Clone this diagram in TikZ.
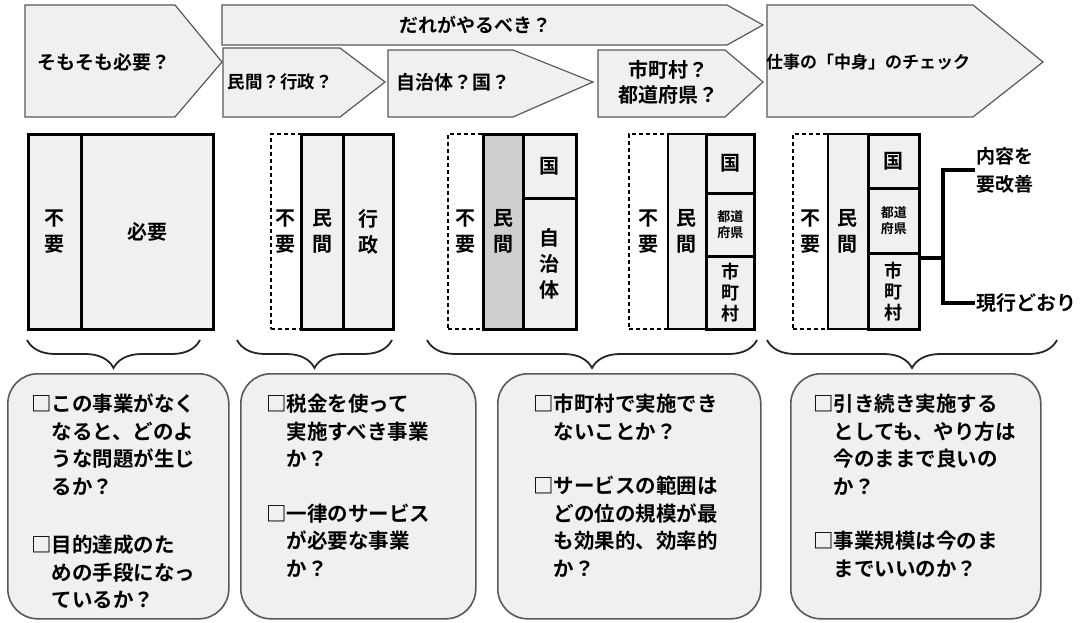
\documentclass[tikz,border=0pt]{standalone}
\usepackage{fontspec}
\newfontfamily\jp{Noto Sans CJK JP}[BoldFont={Noto Sans CJK JP Bold}]
\usetikzlibrary{positioning,decorations.pathreplacing}
\newcommand\chk{□}
\newcommand\ind{\hspace*{1em}}
\tikzset{
        tag/.style={draw=gray!70!black, line width=1.2pt, fill=gray!12},
        tagtext/.style={font=\jp\bfseries\fontsize{19}{24}\selectfont, align=center, inner sep=0pt},
        col/.style={draw, line width=2.5pt, fill=gray!12, inner sep=0pt, anchor=north west, align=center,
                font=\jp\bfseries\fontsize{20}{26}\selectfont},
        nocol/.style={draw, dash pattern=on 4pt off 3pt, line width=1.6pt, fill=white, inner sep=0pt,
                anchor=north west, align=center, font=\jp\bfseries\fontsize{20}{26}\selectfont},
        smallcol/.style={col, font=\jp\bfseries\fontsize{13}{16}\selectfont},
        shicol/.style={col, font=\jp\bfseries\fontsize{18}{21}\selectfont},
        curly/.style={decorate, decoration={brace, mirror, amplitude=28pt}, line width=1.8pt, draw=gray!30!black},
        memo/.style={draw=gray!70!black, line width=1.6pt, fill=gray!12, rounded corners=30pt, anchor=north west},
        memotext/.style={anchor=north west, align=left, inner sep=0pt,
                font=\jp\bfseries\fontsize{20.5}{27.5}\selectfont},
        link/.style={line width=4pt},
}
\begin{document}
\begin{tikzpicture}[x=1pt, y=-1pt]
                \fill [white] (0,0) rectangle (1085,622);
                \useasboundingbox (0,0) rectangle (1085,622);
                % step arrows
                \draw [tag] (222,5) -- (727,5) -- (763,25) -- (727,45) -- (222,45) -- cycle;
                \draw [tag] (25,5) -- (175,5) -- (222,62) -- (175,117) -- (25,117) -- cycle;
                \draw [tag] (223,48) -- (340,48) -- (385,82) -- (340,117) -- (223,117) -- cycle;
                \draw [tag] (388,50) -- (513,50) -- (593,82) -- (513,117) -- (388,117) -- cycle;
                \draw [tag] (598,50) -- (725,50) -- (763,82) -- (725,117) -- (598,117) -- cycle;
                \draw [tag] (767,5) -- (973,5) -- (1043,62) -- (973,117) -- (767,117) -- cycle;
                \node [tagtext] (dare) at (475,25) {だれがやるべき？};
                \node [tagtext] (somosomo) at (104,62) {そもそも必要？};
                \node [tagtext, font=\jp\bfseries\fontsize{17.5}{22}\selectfont] (kanmin) at (280,82) {民間？行政？};
                \node [tagtext] (jichikuni) at (453,82) {自治体？国？};
                \node [tagtext, font=\jp\bfseries\fontsize{20}{25}\selectfont] (shito) at (668,82) {市町村？\\都道府県？};
                \node [tagtext, font=\jp\bfseries\fontsize{17}{22}\selectfont] (nakami) at (868,62) {仕事の「中身」のチェック};
                % column boxes
                \node [col, minimum width=53, minimum height=195] (fuyoA) at (27,133) {不\\要};
                \node [col, minimum width=132, minimum height=195] (hitsuyo) at (80,133) {必要};
                \node [nocol, minimum width=30, minimum height=195] (fuyoB) at (270,133) {不\\要};
                \node [col, minimum width=42, minimum height=195] (minkanB) at (300,133) {民\\間};
                \node [col, minimum width=50, minimum height=195] (gyosei) at (342,133) {行\\政};
                \node [nocol, minimum width=35, minimum height=195] (fuyoC) at (447,133) {不\\要};
                \node [col, fill=gray!38, minimum width=40, minimum height=195] (minkanC) at (482,133) {民\\間};
                \node [col, minimum width=53, minimum height=64] (kuniC) at (522,133) {国};
                \node [col, minimum width=53, minimum height=131] (jichitai) at (522,197) {自\\治\\体};
                \node [nocol, minimum width=39, minimum height=195] (fuyoD) at (628,133) {不\\要};
                \node [col, line width=1.5pt, minimum width=38, minimum height=195] (minkanD) at (667,133) {民\\間};
                \node [col, minimum width=48, minimum height=59] (kuniD) at (705,133) {国};
                \node [smallcol, minimum width=48, minimum height=63] (todoD) at (705,192) {都道\\府県};
                \node [shicol, minimum width=48, minimum height=73] (shiD) at (705,255) {市\\町\\村};
                \node [nocol, minimum width=35, minimum height=195] (fuyoE) at (792,133) {不\\要};
                \node [col, line width=1.5pt, minimum width=40, minimum height=195] (minkanE) at (827,133) {民\\間};
                \node [col, minimum width=51, minimum height=54] (kuniE) at (867,133) {国};
                \node [smallcol, minimum width=51, minimum height=65] (todoE) at (867,187) {都道\\府県};
                \node [shicol, minimum width=51, minimum height=76] (shiE) at (867,252) {市\\町\\村};
                % outcome
                \coordinate (fork) at (943,258);
                \node [anchor=west, inner sep=1pt, align=left, font=\jp\bfseries\fontsize{19}{28}\selectfont] (kaizen) at (975,170) {内容を\\要改善};
                \node [anchor=west, inner sep=1pt, font=\jp\bfseries\fontsize{20}{24}\selectfont] (genko) at (975,303) {現行どおり};
                \draw [link] (shiE.east |- fork) -- (fork);
                \draw [link] (kaizen.west) -| (fork) |- (genko.west);
                % braces
                \draw [curly] (27,340) -- (200,340);
                \draw [curly] (237,340) -- (392,340);
                \draw [curly] (427,340) -- (757,340);
                \draw [curly] (767,340) -- (1057,340);
                % questions
                \node [memo, minimum width=221, minimum height=245] (memoA) at (7,373) {};
                \node [memo, minimum width=235, minimum height=245] (memoB) at (240,373) {};
                \node [memo, minimum width=263, minimum height=245] (memoC) at (497,373) {};
                \node [memo, minimum width=250, minimum height=245] (memoD) at (790,373) {};
                \node [memotext] (qA) at (31,394) {\chk この事業がなく\\
                        \ind なると、どのよ\\
                        \ind うな問題が生じ\\
                        \ind るか？\\[31pt]
                        \chk 目的達成のた\\
                        \ind めの手段になっ\\
                        \ind ているか？};
                \node [memotext] (qB) at (266,394) {\chk 税金を使って\\
                        \ind 実施すべき事業\\
                        \ind か？\\[27pt]
                        \chk 一律のサービス\\
                        \ind が必要な事業\\
                        \ind か？};
                \node [memotext] (qC) at (533,394) {\chk 市町村で実施でき\\
                        \ind ないことか？\\[27pt]
                        \chk サービスの範囲は\\
                        \ind どの位の規模が最\\
                        \ind も効果的、効率的\\
                        \ind か？};
                \node [memotext] (qD) at (813,394) {\chk 引き続き実施する\\
                        \ind としても、やり方は\\
                        \ind 今のままで良いの\\
                        \ind か？\\[27pt]
                        \chk 事業規模は今のま\\
                        \ind までいいのか？};
\end{tikzpicture}
\end{document}
